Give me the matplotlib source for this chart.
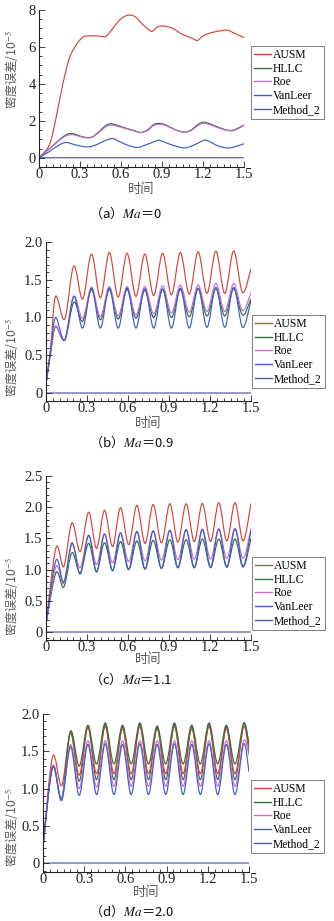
import matplotlib
matplotlib.use('Agg')
import matplotlib.pyplot as plt
import numpy as np
from matplotlib.path import Path
from matplotlib.patches import PathPatch
from matplotlib.lines import Line2D
from matplotlib.ticker import MultipleLocator, FixedLocator

plt.rcParams['mathtext.fontset'] = 'stix'

# ---------------- data (density error, x1e-5) ----------------
series_names = ['AUSM', 'HLLC', 'Roe', 'VanLeer', 'Method_2']

# (a) Ma = 0
t_a_ausm = [0, 0.076, 0.124, 0.173, 0.222, 0.271, 0.32, 0.368, 0.43, 0.478, 0.50, 0.54, 0.588, 0.637,
            0.673, 0.71, 0.758, 0.807, 0.832, 0.868, 0.917, 0.978, 1.05, 1.124, 1.16, 1.2, 1.27, 1.37, 1.417, 1.5]
ausm_a = [0, 0.70, 2.14, 3.94, 5.38, 6.1, 6.52, 6.6, 6.59, 6.55, 6.64, 7.0, 7.45, 7.69,
          7.72, 7.6, 7.22, 6.91, 6.86, 7.09, 7.13, 7.0, 6.68, 6.46, 6.35, 6.6, 6.79, 6.91, 6.79, 6.5]
t_a_mid = [0, 0.076, 0.124, 0.173, 0.21, 0.246, 0.295, 0.344, 0.39, 0.44, 0.49, 0.527, 0.576, 0.637, 0.70,
           0.746, 0.795, 0.844, 0.893, 0.941, 1.0, 1.063, 1.11, 1.16, 1.2, 1.246, 1.307, 1.368, 1.417, 1.466, 1.5]
hllc_a = [0, 0.49, 0.81, 1.12, 1.28, 1.31, 1.19, 1.10, 1.13, 1.42, 1.75, 1.84, 1.75, 1.60, 1.46,
          1.37, 1.51, 1.82, 1.85, 1.73, 1.51, 1.39, 1.49, 1.78, 1.93, 1.85, 1.67, 1.51, 1.49, 1.64, 1.78]
roe_a = [0, 0.48, 0.79, 1.08, 1.22, 1.25, 1.16, 1.08, 1.11, 1.38, 1.68, 1.76, 1.70, 1.57, 1.44,
         1.36, 1.48, 1.76, 1.80, 1.70, 1.50, 1.38, 1.46, 1.72, 1.87, 1.80, 1.63, 1.49, 1.46, 1.60, 1.76]
t_a_vl = [0, 0.076, 0.149, 0.198, 0.246, 0.307, 0.368, 0.43, 0.49, 0.54, 0.588, 0.66, 0.72, 0.783,
          0.868, 0.893, 0.954, 1.027, 1.076, 1.137, 1.21, 1.246, 1.307, 1.368, 1.417, 1.5]
vanleer_a = [0, 0.34, 0.70, 0.83, 0.74, 0.63, 0.59, 0.74, 0.95, 1.04, 0.88, 0.65, 0.56, 0.70,
             0.94, 0.92, 0.74, 0.58, 0.54, 0.70, 0.95, 0.88, 0.65, 0.54, 0.56, 0.76]

# (b) Ma = 0.9
t_b = [0, 0.035, 0.07, 0.137, 0.203, 0.268, 0.333, 0.398, 0.463, 0.528, 0.593, 0.658, 0.723,
       0.788, 0.853, 0.918, 0.983, 1.048, 1.113, 1.178, 1.243, 1.308, 1.373, 1.438, 1.5]
ausm_b = [0.12, 0.62, 1.28, 0.98, 1.68, 1.245, 1.84, 1.26, 1.86, 1.27, 1.85, 1.28, 1.84,
          1.29, 1.85, 1.30, 1.86, 1.31, 1.87, 1.32, 1.88, 1.32, 1.88, 1.33, 1.65]
hllc_b = [0.12, 0.55, 0.88, 0.70, 1.20, 0.95, 1.37, 0.97, 1.37, 0.98, 1.37, 0.99, 1.36,
          1.00, 1.37, 1.00, 1.37, 1.01, 1.38, 1.02, 1.38, 1.02, 1.38, 1.03, 1.25]
roe_b = [0.12, 0.55, 0.89, 0.71, 1.28, 0.99, 1.40, 1.01, 1.41, 1.02, 1.41, 1.03, 1.41,
         1.05, 1.42, 1.06, 1.43, 1.07, 1.43, 1.08, 1.45, 1.08, 1.45, 1.09, 1.33]
vanleer_b = [0.12, 0.57, 1.00, 0.70, 1.28, 0.86, 1.39, 0.86, 1.39, 0.86, 1.39, 0.86, 1.38,
             0.86, 1.38, 0.86, 1.39, 0.86, 1.39, 0.87, 1.40, 0.87, 1.40, 0.87, 1.22]

# (c) Ma = 1.1
t_c = [0, 0.073, 0.13, 0.19, 0.25, 0.312, 0.37, 0.428, 0.487, 0.545, 0.605, 0.665, 0.725,
       0.784, 0.845, 0.906, 0.965, 1.025, 1.085, 1.144, 1.204, 1.264, 1.323, 1.383, 1.442, 1.5]
ausm_c = [0.13, 1.35, 1.05, 1.75, 1.29, 1.92, 1.34, 1.95, 1.37, 1.99, 1.40, 2.03, 1.42,
          2.045, 1.43, 2.055, 1.44, 2.055, 1.45, 2.06, 1.45, 2.07, 1.46, 2.07, 1.46, 2.06]
hllc_c = [0.13, 0.95, 0.72, 1.27, 0.95, 1.42, 0.97, 1.43, 0.99, 1.45, 1.00, 1.46, 1.01,
          1.47, 1.02, 1.48, 1.03, 1.48, 1.03, 1.49, 1.03, 1.49, 1.04, 1.49, 1.04, 1.50]
roe_c = [0.13, 1.05, 0.78, 1.40, 1.03, 1.55, 1.08, 1.57, 1.11, 1.59, 1.13, 1.61, 1.14,
         1.62, 1.15, 1.63, 1.16, 1.64, 1.17, 1.65, 1.17, 1.65, 1.18, 1.66, 1.18, 1.66]
vanleer_c = [0.13, 1.15, 0.80, 1.43, 0.93, 1.55, 0.96, 1.57, 0.98, 1.59, 1.00, 1.61, 1.01,
             1.62, 1.02, 1.63, 1.03, 1.64, 1.03, 1.64, 1.04, 1.65, 1.04, 1.65, 1.05, 1.63]

# (d) Ma = 2.0
t_d = [0, 0.07, 0.136, 0.2, 0.264, 0.327, 0.39, 0.453, 0.516, 0.579, 0.642, 0.705, 0.768,
       0.831, 0.894, 0.957, 1.02, 1.083, 1.146, 1.209, 1.272, 1.335, 1.398, 1.461, 1.5]
ausm_d = [0.22, 1.43, 1.04, 1.75, 1.18, 1.82, 1.20, 1.83, 1.20, 1.80, 1.20, 1.83, 1.20,
          1.80, 1.20, 1.83, 1.20, 1.80, 1.20, 1.83, 1.20, 1.80, 1.20, 1.83, 1.48]
hllc_d = [0.22, 1.30, 0.87, 1.77, 1.30, 1.85, 1.33, 1.88, 1.33, 1.85, 1.33, 1.88, 1.33,
          1.84, 1.33, 1.88, 1.33, 1.85, 1.33, 1.88, 1.33, 1.85, 1.33, 1.88, 1.60]
other_d = [0.22, 1.30, 0.86, 1.75, 1.10, 1.83, 1.12, 1.86, 1.12, 1.83, 1.12, 1.86, 1.12,
           1.82, 1.12, 1.86, 1.12, 1.83, 1.12, 1.86, 1.12, 1.83, 1.12, 1.86, 1.55]
roe_d = [0.22, 1.30, 0.86, 1.59, 1.00, 1.64, 1.02, 1.64, 1.03, 1.64, 1.03, 1.64, 1.03,
         1.64, 1.03, 1.64, 1.03, 1.64, 1.03, 1.64, 1.03, 1.64, 1.03, 1.64, 1.45]
vanleer_d = [0.22, 1.28, 0.84, 1.56, 0.91, 1.59, 0.92, 1.60, 0.92, 1.59, 0.92, 1.60, 0.92,
             1.59, 0.92, 1.60, 0.92, 1.59, 0.92, 1.60, 0.92, 1.59, 0.92, 1.60, 1.22]

# Method_2 stays at zero in every case
t_m2 = [0, 1.5]
method2 = [0, 0]

x_ticks = [0, 0.3, 0.6, 0.9, 1.2, 1.5]
x_ticklabels = ['0', '0.3', '0.6', '0.9', '1.2', '1.5']
y_ticks_a = [0, 2, 4, 6, 8]
y_ticklabels_a = ['0', '2', '4', '6', '8']
y_ticks_b = [0, 0.5, 1.0, 1.5, 2.0]
y_ticklabels_b = ['0', '0.5', '1.0', '1.5', '2.0']
y_ticks_c = [0, 0.5, 1.0, 1.5, 2.0, 2.5]
y_ticklabels_c = ['0', '0.5', '1.0', '1.5', '2.0', '2.5']
captions = ['（a）$\\mathit{Ma}$＝0', '（b）$\\mathit{Ma}$＝0.9',
            '（c）$\\mathit{Ma}$＝1.1', '（d）$\\mathit{Ma}$＝2.0']

# ---------------- style ----------------
colors = {'AUSM': '#d2463c', 'HLLC': '#2f6e3f', 'Roe': '#cc6fcc',
          'VanLeer': '#3f5cc8', 'Method_2': '#5556a6', 'other': '#4a6b4a'}
W, H = 334, 921
serif = 'Liberation Serif'
cjk = ['Noto Sans CJK SC', 'DejaVu Sans']
grey = '#5a5a5a'


def fx(x):
    return x / W


def fy(y):
    return 1 - y / H


def smooth(ax, t, y, color, lw=0.85):
    # draw the read points as a smooth Bezier path (Catmull-Rom tangents)
    pts = np.column_stack([t, y]).astype(float)
    ext = np.vstack([pts[0], pts, pts[-1]])
    verts = [pts[0]]
    codes = [Path.MOVETO]
    for i in range(len(pts) - 1):
        p0, p1, p2, p3 = ext[i], ext[i + 1], ext[i + 2], ext[i + 3]
        verts += [p1 + (p2 - p0) / 6, p2 - (p3 - p1) / 6, p2]
        codes += [Path.CURVE4] * 3
    ax.add_patch(PathPatch(Path(verts, codes), fill=False, edgecolor=color, lw=lw))


fig = plt.figure(figsize=(W / 100, H / 100), dpi=100)
fig.patch.set_facecolor('white')

# (left, top, right, bottom) in pixels, ylim, ticks, labels, minor step, legend corner,
# ylabel centre, xlabel y, caption y
panels = [
    dict(box=(39, 10, 244, 167), ylim=(-0.5, 8), yt=y_ticks_a, ytl=y_ticklabels_a, ym=0.5,
         leg=(251, 46), yl=69, xl=189, cap=213,
         lines=[(t_a_ausm, ausm_a, 'AUSM'), (t_a_mid, hllc_a, 'HLLC'), (t_a_mid, roe_a, 'Roe'),
                (t_a_vl, vanleer_a, 'VanLeer'), (t_m2, method2, 'Method_2')]),
    dict(box=(46, 242, 251, 401), ylim=(-0.106, 2.0), yt=y_ticks_b, ytl=y_ticklabels_b, ym=0.1,
         leg=(252, 315), yl=357, xl=423, cap=442,
         lines=[(t_b, ausm_b, 'AUSM'), (t_b, hllc_b, 'HLLC'), (t_b, roe_b, 'Roe'),
                (t_b, vanleer_b, 'VanLeer'), (t_m2, method2, 'Method_2')]),
    dict(box=(46, 476, 251, 640), ylim=(-0.128, 2.5), yt=y_ticks_c, ytl=y_ticklabels_c, ym=0.1,
         leg=(252, 557), yl=596, xl=659, cap=679,
         lines=[(t_c, ausm_c, 'AUSM'), (t_c, hllc_c, 'HLLC'), (t_c, roe_c, 'Roe'),
                (t_c, vanleer_c, 'VanLeer'), (t_m2, method2, 'Method_2')]),
    dict(box=(43, 714, 249, 872), ylim=(-0.12, 2.0), yt=y_ticks_b, ytl=y_ticklabels_b, ym=0.1,
         leg=(251, 780), yl=827, xl=892, cap=911,
         lines=[(t_d, other_d, 'other'), (t_d, ausm_d, 'AUSM'), (t_d, hllc_d, 'HLLC'),
                (t_d, roe_d, 'Roe'), (t_d, vanleer_d, 'VanLeer'), (t_m2, method2, 'Method_2')]),
]

for p, cap in zip(panels, captions):
    l, t, r, b = p['box']
    ax = fig.add_axes([fx(l), fy(b), (r - l) / W, (b - t) / H])
    ax.set_xlim(0, 1.5)
    ax.set_ylim(*p['ylim'])
    for name_t, name_y, key in p['lines']:
        smooth(ax, name_t, name_y, colors[key])

    for s in ['top', 'right']:
        ax.spines[s].set_visible(False)
    for s in ['left', 'bottom']:
        ax.spines[s].set_linewidth(0.8)
        ax.spines[s].set_color('#222222')
    ax.xaxis.set_major_locator(FixedLocator(x_ticks))
    ax.set_xticklabels(x_ticklabels)
    ax.xaxis.set_minor_locator(MultipleLocator(0.05))
    ax.yaxis.set_major_locator(FixedLocator(p['yt']))
    ax.set_yticklabels(p['ytl'])
    ax.yaxis.set_minor_locator(MultipleLocator(p['ym']))
    ax.tick_params(which='both', direction='in', width=0.6, color='#222222')
    ax.tick_params(which='major', length=4)
    ax.tick_params(which='minor', length=2.5)
    ax.tick_params(axis='x', pad=1.0)
    ax.tick_params(axis='y', pad=2.5)
    for lab in ax.get_xticklabels() + ax.get_yticklabels():
        lab.set_fontfamily(serif)
        lab.set_fontsize(10.5)
        lab.set_color('#222222')

    handles = [Line2D([], [], color=colors[n], lw=1) for n in series_names]
    leg = ax.legend(handles, series_names, loc='upper left',
                    bbox_to_anchor=(fx(p['leg'][0]), fy(p['leg'][1])),
                    bbox_transform=fig.transFigure, prop={'family': serif, 'size': 8.4},
                    frameon=True, fancybox=False, borderpad=0.25, labelspacing=0.15,
                    handlelength=1.5, handletextpad=0.15, borderaxespad=0)
    leg.get_frame().set_edgecolor('#444444')
    leg.get_frame().set_linewidth(0.6)

    fig.text(fx(11), fy(p['yl']), '密度误差/10$^{-5}$', rotation=90, ha='center', va='center',
             family=cjk, fontsize=8.8, color=grey)
    fig.text(fx((l + r) / 2), fy(p['xl']), '时间', ha='center', va='center',
             family=cjk, fontsize=9.5, color=grey)
    fig.text(fx(89), fy(p['cap']), cap, ha='left', va='center', family=cjk,
             fontsize=9.5, color='#111111')

fig.savefig('out.png', dpi=100)
